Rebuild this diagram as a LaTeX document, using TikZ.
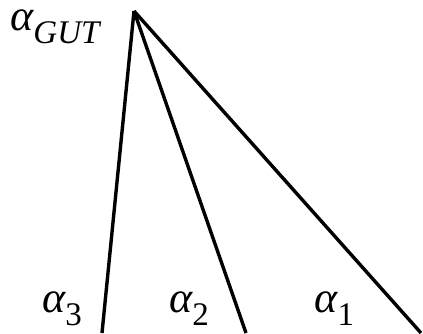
\documentclass[tikz,border=0pt]{standalone}
\usepackage{fontspec}
\setmainfont{Liberation Serif}
\usepackage{tikz}
\usetikzlibrary{positioning}
\newcommand{\cplsub}[1]{\raisebox{-6.5pt}{\fontsize{16.5}{19}\selectfont #1}}

\begin{document}
\begin{tikzpicture}[x=0.5pt, y=-0.5pt,
    coupling/.style={line width=1.7pt, line cap=butt},
    lbl/.style={font=\fontsize{22}{26}\selectfont, inner sep=0pt, text height=0.5em}]
    \useasboundingbox (0,0) rectangle (423,333);

    % Unification point and low energy ends
    \coordinate (gut) at (134,11);
    \coordinate (end3) at (102,333);
    \coordinate (end2) at (246,333);
    \coordinate (end1) at (421,333);

    % Running couplings
    \draw[coupling] (gut) -- (end3);
    \draw[coupling] (gut) -- (end2);
    \draw[coupling] (gut) -- (end1);

    % Labels
    \node[lbl, anchor=base west] (lgut) at (10,30) {\itshape α\cplsub{GUT}};
    \node[lbl, anchor=base west] (lthree) at (42,312) {\itshape α\cplsub{\upshape 3}};
    \node[lbl, anchor=base west] (ltwo) at (169,312) {\itshape α\cplsub{\upshape 2}};
    \node[lbl, anchor=base west] (lone) at (314,312) {\itshape α\cplsub{\upshape 1}};
\end{tikzpicture}
\end{document}
